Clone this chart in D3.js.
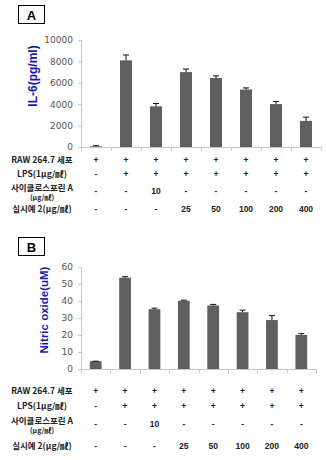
<!DOCTYPE html>
<html><head><meta charset="utf-8">
<script src="https://cdn.jsdelivr.net/npm/d3@7"></script>
<style>body{margin:0;background:#fff;} svg{display:block;}</style>
</head><body><svg id="c" width="326" height="460"></svg>
<script>
const categories = ["c1","c2","c3","c4","c5","c6","c7","c8"];
const il6Values = [60, 8100, 3800, 7000, 6450, 5370, 4010, 2440];
const il6Errors = [60, 500, 270, 290, 200, 150, 250, 350];
const il6Ticks = [0, 2000, 4000, 6000, 8000, 10000];
const noValues = [4.6, 53.7, 35.2, 40.1, 37.4, 33.4, 28.8, 20.0];
const noErrors = [0, 0.6, 0.6, 0.4, 0.6, 1.2, 2.6, 0.8];
const noTicks = [0, 10, 20, 30, 40, 50, 60];
const rowLabels = [["RAW 264.7 세포"], ["LPS(1μg/㎖)"], ["사이클로스포린 A", "(μg/㎖)"], ["실시예 2(μg/㎖)"]];
const rowRaw = ["+","+","+","+","+","+","+","+"];
const rowLps = ["-","+","+","+","+","+","+","+"];
const rowCsa = ["-","-","10","-","-","-","-","-"];
const rowEx = ["-","-","-","25","50","100","200","400"];
const rows = [rowRaw, rowLps, rowCsa, rowEx];

const svg = d3.select("#c");
const KFONT = "'Noto Sans CJK KR', 'Noto Sans', sans-serif";

function panel(cfg) {
  const g = svg.append("g");
  g.append("rect").attr("x", 18.5).attr("y", cfg.boxY + 0.5).attr("width", 26).attr("height", 18)
    .attr("fill", "#fff").attr("stroke", "#000").attr("stroke-width", 1);
  g.append("text").attr("x", 31.5).attr("y", cfg.boxY + 14.5).attr("text-anchor", "middle")
    .attr("font-family", "Arial, 'Liberation Sans', sans-serif").attr("font-weight", "bold")
    .attr("font-size", 13).text(cfg.letter);

  const x = d3.scaleBand().domain(categories).range([81, cfg.xEnd]).paddingInner(0.6).paddingOuter(0.3);
  const y = d3.scaleLinear().domain([0, cfg.max]).range([cfg.y0, cfg.yTop]);

  const ya = g.append("g").attr("transform", `translate(81,0)`)
    .call(d3.axisLeft(y).tickValues(cfg.ticks).tickFormat(d3.format("d")).tickSize(3).tickPadding(5));
  ya.select(".domain").attr("stroke", "#c8c8c8");
  ya.selectAll(".tick line").attr("stroke", "#c8c8c8");
  ya.selectAll("text").attr("fill", "#555")
    .attr("font-family", "'DejaVu Sans', sans-serif").attr("font-size", 9);

  g.append("line").attr("x1", 81).attr("x2", cfg.xEnd).attr("y1", cfg.y0 + 0.5).attr("y2", cfg.y0 + 0.5)
    .attr("stroke", "#c8c8c8");
  const bounds = categories.map(c => x(c) - x.step() * x.paddingInner() / 2);
  bounds.push(cfg.xEnd);
  g.selectAll(".xt").data(bounds).join("line")
    .attr("x1", d => Math.round(d) + 0.5).attr("x2", d => Math.round(d) + 0.5)
    .attr("y1", cfg.y0).attr("y2", cfg.y0 + 4).attr("stroke", "#c8c8c8");

  g.selectAll(".bar").data(cfg.values).join("rect")
    .attr("x", (d, i) => x(categories[i])).attr("width", x.bandwidth())
    .attr("y", d => y(d)).attr("height", d => cfg.y0 - y(d))
    .attr("fill", "#5f5f5f");

  const eb = g.selectAll(".eb").data(cfg.values).join("g");
  eb.append("line")
    .attr("x1", (d, i) => x(categories[i]) + x.bandwidth() / 2)
    .attr("x2", (d, i) => x(categories[i]) + x.bandwidth() / 2)
    .attr("y1", d => y(d)).attr("y2", (d, i) => y(d + cfg.errors[i]))
    .attr("stroke", "#111").attr("stroke-width", 1);
  eb.append("line")
    .attr("x1", (d, i) => x(categories[i]) + x.bandwidth() / 2 - 3)
    .attr("x2", (d, i) => x(categories[i]) + x.bandwidth() / 2 + 3)
    .attr("y1", (d, i) => y(d + cfg.errors[i])).attr("y2", (d, i) => y(d + cfg.errors[i]))
    .attr("stroke", "#111").attr("stroke-width", 1);

  g.append("text").attr("transform", `translate(${cfg.titleX},${cfg.titleY}) rotate(-90)`)
    .attr("text-anchor", "middle").attr("fill", "#1a1aa6").attr("font-weight", "bold")
    .attr("font-family", "Arial, 'Liberation Sans', sans-serif").attr("font-size", cfg.titleSize)
    .text(cfg.title);

  cfg.rowY.forEach((ry, ri) => {
    const lab = rowLabels[ri];
    lab.forEach((t, li) => {
      g.append("text").attr("x", 42).attr("y", ry + (lab.length > 1 ? (li === 0 ? -3 : 6) : 0))
        .attr("text-anchor", "middle").attr("dominant-baseline", "middle")
        .attr("font-family", KFONT).attr("font-weight", "bold")
        .attr("font-size", li === 0 ? 8.5 : 7).attr("fill", "#222").text(t);
    });
    g.selectAll(".cell" + ri).data(rows[ri]).join("text")
      .attr("x", (d, i) => x(categories[i]) + x.bandwidth() / 2)
      .attr("y", ry).attr("text-anchor", "middle").attr("dominant-baseline", "middle")
      .attr("font-family", "Arial, 'Liberation Sans', sans-serif").attr("font-weight", "bold")
      .attr("font-size", 8.5).attr("fill", "#222").text(d => d);
  });
}

panel({letter: "A", boxY: 5, xEnd: 321, y0: 147, yTop: 40, max: 10000, ticks: il6Ticks,
  values: il6Values, errors: il6Errors, title: "IL-6(pg/ml)", titleX: 37, titleY: 76, titleSize: 12,
  rowY: [160.5, 175, 192, 210]});
panel({letter: "B", boxY: 237, xEnd: 316, y0: 369, yTop: 267, max: 60, ticks: noTicks,
  values: noValues, errors: noErrors, title: "Nitric oxide(uM)", titleX: 48, titleY: 310, titleSize: 11.5,
  rowY: [392, 407, 425, 447]});
</script>
</body></html>
